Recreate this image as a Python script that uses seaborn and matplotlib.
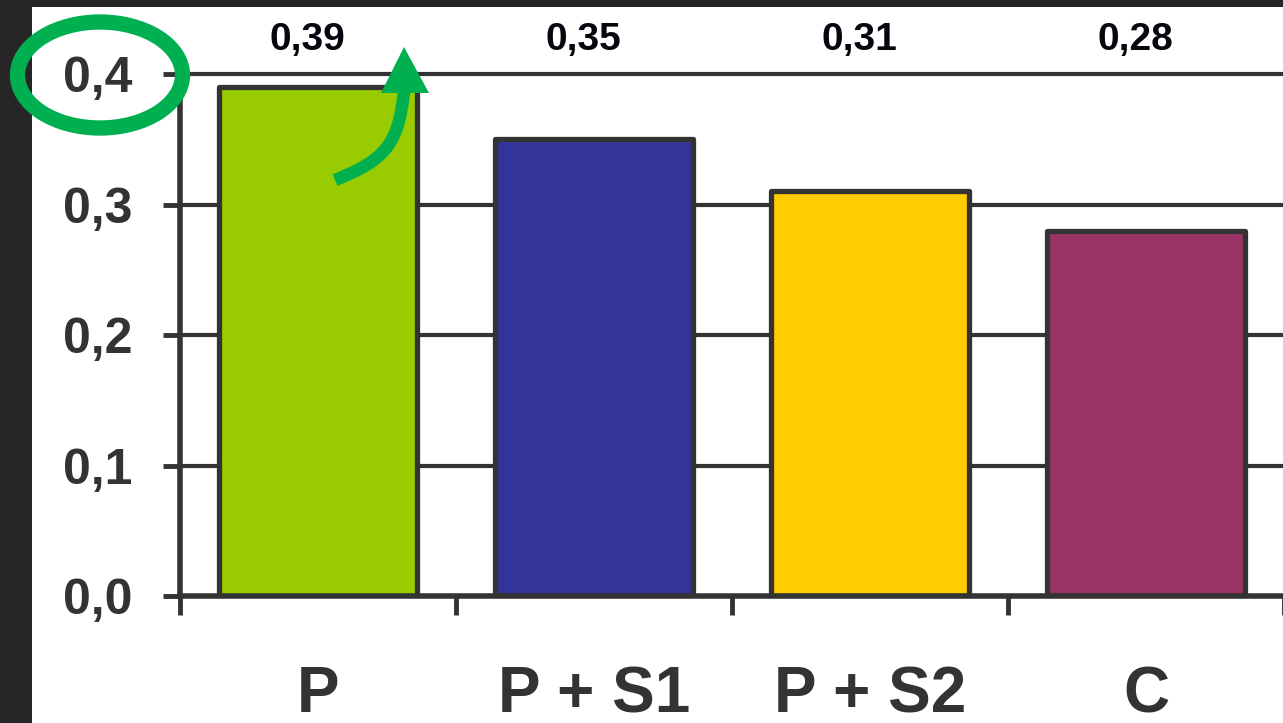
import numpy as np
import pandas as pd
import matplotlib
matplotlib.use("Agg")
import matplotlib.pyplot as plt
import seaborn as sns
from matplotlib.patches import Rectangle, Ellipse, Polygon, PathPatch
from matplotlib.path import Path

# data
categories = ["P", "P + S1", "P + S2", "C"]
values = [0.39, 0.35, 0.31, 0.28]
value_labels = ["0,39", "0,35", "0,31", "0,28"]
bar_colors = ["#99CC00", "#333399", "#FFCC00", "#993366"]
y_ticks = [0.0, 0.1, 0.2, 0.3, 0.4]
y_tick_labels = ["0,0", "0,1", "0,2", "0,3", "0,4"]

DARK = "#333333"
W, H = 1283, 723

sns.set_style("white")
plt.rcParams["font.family"] = ["Liberation Sans", "DejaVu Sans"]

fig = plt.figure(figsize=(W / 100, H / 100), dpi=100)
fig.patch.set_facecolor("#262626")

# white slide area
fig.patches.append(Rectangle((32 / W, 0), 1 - 32 / W, (H - 7) / H,
                             transform=fig.transFigure, facecolor="white",
                             edgecolor="none", zorder=-10))

ax = fig.add_axes([180 / W, (H - 596) / H, (1284 - 180) / W, (596 - 74) / H])
ax.set_facecolor("none")

df = pd.DataFrame({"cat": categories, "val": values})
sns.barplot(data=df, x="cat", y="val", hue="cat", palette=bar_colors,
            saturation=1, legend=False, width=0.72, edgecolor=DARK,
            linewidth=3.8, ax=ax, zorder=3)
for p in ax.patches:
    p.set_joinstyle("round")

ax.set_ylim(0, 0.4)
ax.set_xlim(-0.5, len(categories) - 0.5)

# grid
for t in y_ticks[1:]:
    ax.axhline(t, color=DARK, linewidth=3.0, zorder=1, clip_on=False)

ax.set_yticks(y_ticks)
ax.set_yticklabels(y_tick_labels, fontsize=36, fontweight="bold", color=DARK)
ax.tick_params(axis="y", length=12, width=3.5, color=DARK, pad=22, left=True)

ax.set_xticks(range(len(categories)))
ax.set_xticklabels(categories, fontsize=46, fontweight="bold", color=DARK)
ax.tick_params(axis="x", which="major", length=0, pad=50)
ax.set_xticks(np.arange(len(categories) + 1) - 0.5, minor=True)
ax.tick_params(axis="x", which="minor", length=14, width=3.5, color=DARK,
               bottom=True)

ax.set_xlabel("")
ax.set_ylabel("")
for side in ["top", "right"]:
    ax.spines[side].set_visible(False)
for side in ["left", "bottom"]:
    ax.spines[side].set_color(DARK)
    ax.spines[side].set_linewidth(4)
    ax.spines[side].set_zorder(4)

# value labels above the plot
trans = ax.get_xaxis_transform()
for i, lab in enumerate(value_labels):
    ax.text(i - 0.04, 1.066, lab, transform=trans, ha="center", va="center",
            fontsize=28, fontweight="bold", color="#05070f", clip_on=False)

# green annotation (ellipse + curved arrow) in pixel coords
ov = fig.add_axes([0, 0, 1, 1])
ov.set_xlim(0, W)
ov.set_ylim(H, 0)
ov.axis("off")
ov.patch.set_alpha(0)
green = "#00B050"
ov.add_patch(Ellipse((100, 75), 165, 106, fill=False, edgecolor=green,
                     linewidth=11))
verts = [(335, 180), (385, 160), (398, 145), (404, 92)]
codes = [Path.MOVETO, Path.CURVE4, Path.CURVE4, Path.CURVE4]
ov.add_patch(PathPatch(Path(verts, codes), fill=False, edgecolor=green,
                       linewidth=9, capstyle="butt"))
ov.add_patch(Polygon([(404, 47), (381, 93), (429, 93)], closed=True,
                     facecolor=green, edgecolor="none"))

fig.savefig("out.png", dpi=100, facecolor=fig.get_facecolor())
